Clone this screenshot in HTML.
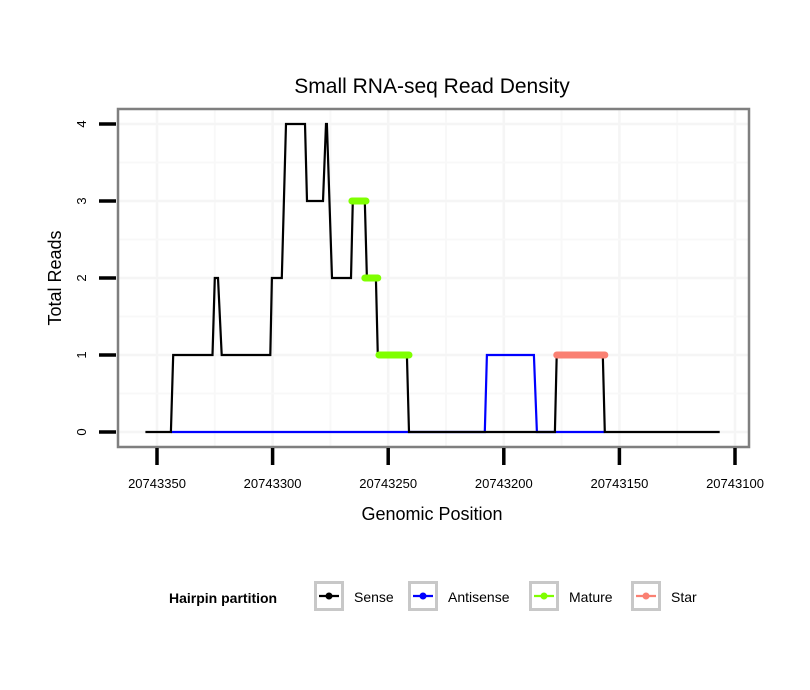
<!DOCTYPE html>
<html><head><meta charset="utf-8"><style>
html,body{margin:0;padding:0;background:#fff;}
svg{display:block;font-family:"Liberation Sans",sans-serif;}
</style></head><body>
<svg id="chart" width="810" height="690">
<text x="432" y="93" font-size="21" text-anchor="middle">Small RNA-seq Read Density</text>
<rect x="118" y="109" width="631" height="338" fill="#fff"/>
<g id="grid"></g>
<g id="series"></g>
<rect x="118" y="109" width="631" height="338" fill="none" stroke="#7f7f7f" stroke-width="2.5"/>
<g id="axes"></g>
<text x="432" y="520" font-size="18" text-anchor="middle">Genomic Position</text>
<text x="0" y="0" font-size="18" text-anchor="middle" transform="translate(61,278) rotate(-90)">Total Reads</text>
<g id="legend">
<text x="169" y="603" font-size="14" font-weight="bold">Hairpin partition</text>
</g>
</svg>
<script>
const NS='http://www.w3.org/2000/svg';
// data
const xTicks=[20743350,20743300,20743250,20743200,20743150,20743100];
const xTickLabels=['20743350','20743300','20743250','20743200','20743150','20743100'];
const yTicks=[0,1,2,3,4];
const yTickLabels=['0','1','2','3','4'];
const sensePos=[20743355,20743344,20743343,20743326,20743325,20743323.6,20743322,20743301,20743300.3,20743296,20743294.2,20743286,20743285.1,20743278.2,20743276.9,20743276.5,20743274.3,20743266.1,20743265.3,20743260.1,20743259.2,20743255.3,20743254.5,20743241.9,20743241,20743177.9,20743177.1,20743157.2,20743156.3,20743106.6];
const senseVal=[0,0,1,1,2,2,1,1,2,2,4,4,3,3,4,4,2,2,3,3,2,2,1,1,0,0,1,1,0,0];
const antiPos=[20743344,20743241,20743208.2,20743207.3,20743187,20743185.7,20743177.5,20743156.5];
const antiVal=[0,0,0,1,1,0,0,0];
const matureStart=[20743265.7,20743260.1,20743254.0];
const matureEnd=[20743259.6,20743254.5,20743241.0];
const matureVal=[3,2,1];
const starStart=[20743177.1];
const starEnd=[20743156.3];
const starVal=[1];
// scales
const X=v=>157+(20743350-v)*(272.6-157)/50;
const Y=v=>432-v*77;
function el(tag,attrs,parent){const e=document.createElementNS(NS,tag);for(const k in attrs)e.setAttribute(k,attrs[k]);parent.appendChild(e);return e;}
const grid=document.getElementById('grid');
for(let i=0;i<xTicks.length;i++){
 const g=el('line',{x1:X(xTicks[i]),x2:X(xTicks[i]),y1:110,y2:446,stroke:'#f5f5f5','stroke-width':2.5},grid);
 
 
 if(i<xTicks.length-1){const m=el('line',{x1:X(xTicks[i]-25),x2:X(xTicks[i]-25),y1:110,y2:446,stroke:'#f8f8f8','stroke-width':2},grid);
 
 }
}
for(let i=0;i<yTicks.length;i++){
 const g=el('line',{x1:119,x2:748,y1:Y(yTicks[i]),y2:Y(yTicks[i]),stroke:'#f5f5f5','stroke-width':2.5},grid);
 
 
 const my=Y(yTicks[i]+0.5);
 if(my>110){const m=el('line',{x1:119,x2:748,y1:my,y2:my,stroke:'#f8f8f8','stroke-width':2},grid);
 
 }
}
const S=document.getElementById('series');
function pts(p,v){return p.map((x,i)=>X(x).toFixed(1)+','+Y(v[i]).toFixed(1)).join(' ');}
const a=el('polyline',{points:pts(antiPos,antiVal),fill:'none',stroke:'#0000ff','stroke-width':2.2},S);


const s=el('polyline',{points:pts(sensePos,senseVal),fill:'none',stroke:'#000','stroke-width':2.2},S);


for(let i=0;i<matureVal.length;i++){
 const m=el('line',{x1:X(matureStart[i]),x2:X(matureEnd[i]),y1:Y(matureVal[i]),y2:Y(matureVal[i]),stroke:'#7fff00','stroke-width':7,'stroke-linecap':'round'},S);
 
 
}
for(let i=0;i<starVal.length;i++){
 const m=el('line',{x1:X(starStart[i]),x2:X(starEnd[i]),y1:Y(starVal[i]),y2:Y(starVal[i]),stroke:'#fa8072','stroke-width':7,'stroke-linecap':'round'},S);
 
 
}
const A=document.getElementById('axes');
for(let i=0;i<xTicks.length;i++){
 const t=el('line',{x1:X(xTicks[i]),x2:X(xTicks[i]),y1:448,y2:465,stroke:'#000','stroke-width':3.5},A);
 
 
 const l=el('text',{x:X(xTicks[i]),y:488,'font-size':13,'text-anchor':'middle'},A);
 l.textContent=xTickLabels[i];
 
 
}
for(let i=0;i<yTicks.length;i++){
 const t=el('line',{x1:99,x2:116,y1:Y(yTicks[i]),y2:Y(yTicks[i]),stroke:'#000','stroke-width':3.5},A);
 
 
 const l=el('text',{x:0,y:0,'font-size':13,'text-anchor':'middle',transform:'translate(86,'+Y(yTicks[i])+') rotate(-90)'},A);
 l.textContent=yTickLabels[i];
 
 
}
const L=document.getElementById('legend');
const legNames=['Sense','Antisense','Mature','Star'];
const legColors=['#000','#0000ff','#7fff00','#fa8072'];
const legX=[314,408,529,631];
for(let i=0;i<4;i++){
 const g=el('g',{},L);
 
 
 el('rect',{x:legX[i]+1.5,y:582.5,width:27,height:27,fill:'#fff',stroke:'#c8c8c8','stroke-width':3},g);
 el('line',{x1:legX[i]+5,x2:legX[i]+25,y1:596,y2:596,stroke:legColors[i],'stroke-width':2.2},g);
 el('circle',{cx:legX[i]+15,cy:596,r:3.5,fill:legColors[i]},g);
 const t=el('text',{x:legX[i]+40,y:602,'font-size':14},g);
 t.textContent=legNames[i];
}
</script>
</body></html>
